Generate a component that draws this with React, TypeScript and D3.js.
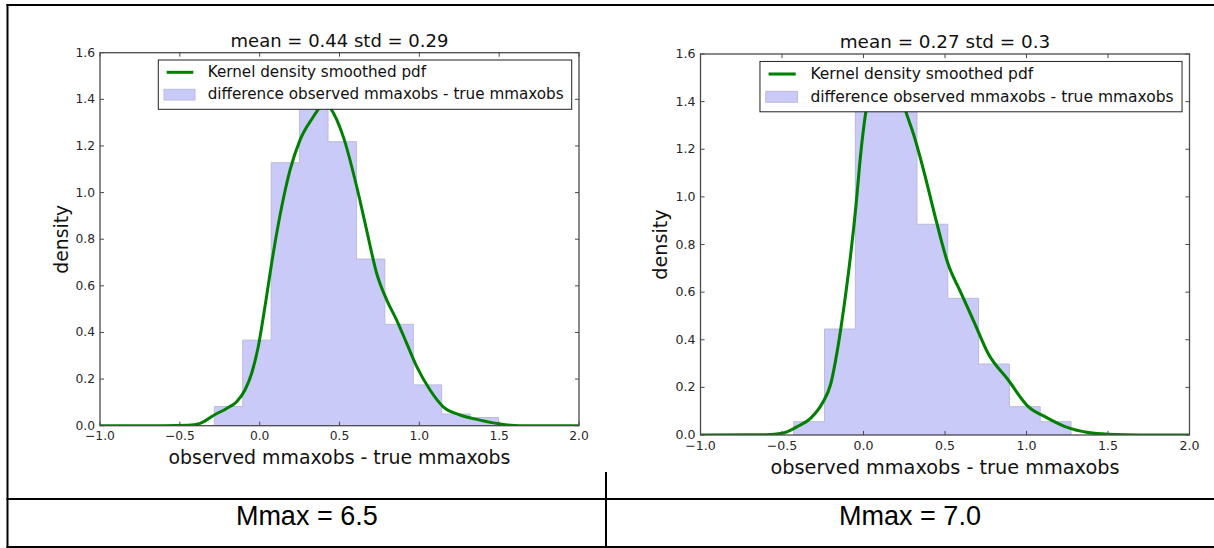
import React from "react";
import * as d3 from "d3";

// ---- Data ----
const xTicks = [-1.0, -0.5, 0.0, 0.5, 1.0, 1.5, 2.0];
const yTicks = [0.0, 0.2, 0.4, 0.6, 0.8, 1.0, 1.2, 1.4, 1.6];

// Left panel (Mmax = 6.5)
const leftTitle = "mean = 0.44 std = 0.29";
const leftBinEdges = [-0.284, -0.106, 0.072, 0.25, 0.428, 0.606, 0.784, 0.962, 1.14, 1.318, 1.496];
const leftBinHeights = [0.082, 0.367, 1.128, 1.41, 1.218, 0.715, 0.435, 0.175, 0.05, 0.035];
const leftKdeX = [-1.0, -0.6, -0.45, -0.373, -0.284, -0.207, -0.144, -0.092, -0.05, -0.009, 0.033, 0.085, 0.138, 0.19, 0.2525, 0.336, 0.37, 0.405, 0.44, 0.524, 0.608, 0.67, 0.733, 0.796, 0.858, 0.921, 0.984, 1.067, 1.15, 1.255, 1.38, 1.506, 1.63, 2.0];
const leftKdeY = [0.0, 0.0, 0.002, 0.01, 0.046, 0.074, 0.103, 0.153, 0.225, 0.339, 0.51, 0.739, 0.939, 1.096, 1.225, 1.325, 1.36, 1.39, 1.365, 1.239, 1.025, 0.839, 0.653, 0.539, 0.453, 0.353, 0.253, 0.153, 0.081, 0.046, 0.024, 0.007, 0.0, 0.0];

// Right panel (Mmax = 7.0)
const rightTitle = "mean = 0.27 std = 0.3";
const rightBinEdges = [-0.428, -0.239, -0.05, 0.139, 0.328, 0.517, 0.706, 0.895, 1.084, 1.273];
const rightBinHeights = [0.056, 0.445, 1.45, 1.41, 0.885, 0.574, 0.298, 0.119, 0.056];
const rightKdeX = [-1.0, -0.6, -0.5, -0.407, -0.325, -0.253, -0.2, -0.16, -0.12, -0.078, -0.047, -0.017, 0.014, 0.06, 0.13, 0.2, 0.261, 0.312, 0.374, 0.435, 0.518, 0.6, 0.682, 0.764, 0.888, 1.011, 1.113, 1.237, 1.381, 1.504, 1.7, 2.0];
const rightKdeY = [0.0, 0.001, 0.007, 0.035, 0.07, 0.133, 0.217, 0.357, 0.538, 0.762, 0.958, 1.182, 1.356, 1.5, 1.56, 1.5, 1.356, 1.252, 1.098, 0.93, 0.72, 0.594, 0.469, 0.343, 0.231, 0.119, 0.077, 0.035, 0.01, 0.003, 0.0, 0.0];

const legendLine = "Kernel density smoothed pdf";
const legendPatch = "difference observed mmaxobs - true mmaxobs";
const xLabel = "observed mmaxobs - true mmaxobs";
const yLabel = "density";
const cellLabels = ["Mmax = 6.5", "Mmax = 7.0"];

const FONT = "'DejaVu Sans', sans-serif";

function fmtTick(v: number) {
  const s = Math.abs(v).toFixed(1);
  return v < 0 ? "\u2212" + s : s;
}

type PanelProps = {
  x0: number; x1: number; y0: number; y1: number; s: number;
  title: string; edges: number[]; heights: number[]; kx: number[]; ky: number[];
};

function Panel({ x0, x1, y0, y1, s, title, edges, heights, kx, ky }: PanelProps) {
  const x = d3.scaleLinear().domain([-1, 2]).range([x0, x1]);
  const y = d3.scaleLinear().domain([0, 1.6]).range([y1, y0]);
  const clipId = `clip-${Math.round(x0)}`;

  // step-filled histogram outline
  const pts: [number, number][] = [[edges[0], 0]];
  heights.forEach((h, i) => {
    pts.push([edges[i], h]);
    pts.push([edges[i + 1], h]);
  });
  pts.push([edges[edges.length - 1], 0]);
  const histPath = d3.line<[number, number]>().x((d) => x(d[0])).y((d) => y(d[1]))(pts) + "Z";

  const kde = kx.map((v, i) => [v, ky[i]] as [number, number]);
  const kdePath = d3.line<[number, number]>().x((d) => x(d[0])).y((d) => y(d[1])).curve(d3.curveMonotoneX)(kde) || "";

  const tickLen = 4 * s;
  const legW = 413.4 * s;
  const legH = 49.3 * s;
  const legR = x1 - 7.3 * s;
  const legT = y0 + 7.3 * s;
  const legL = legR - legW;
  const tickFs = 12.3 * s;

  return (
    <g fontFamily={FONT}>
      <defs>
        <clipPath id={clipId}>
          <rect x={x0} y={y0} width={x1 - x0} height={y1 - y0} />
        </clipPath>
      </defs>
      <g clipPath={`url(#${clipId})`}>
        <path d={histPath} fill="#cacaf8" stroke="#b9b9dc" strokeWidth={1} />
        <path d={kdePath} fill="none" stroke="#008000" strokeWidth={3 * s} strokeLinejoin="round" />
      </g>
      {/* frame */}
      <rect x={x0} y={y0} width={x1 - x0} height={y1 - y0} fill="none" stroke="#4a4a4a" strokeWidth={1.3} />
      {/* ticks */}
      {xTicks.map((t) => (
        <g key={`xt${t}`}>
          <line x1={x(t)} x2={x(t)} y1={y1} y2={y1 - tickLen} stroke="#4a4a4a" strokeWidth={1} />
          <line x1={x(t)} x2={x(t)} y1={y0} y2={y0 + tickLen} stroke="#4a4a4a" strokeWidth={1} />
          <text x={x(t)} y={y1 + 14.6 * s} fontSize={tickFs} fill="#262626" textAnchor="middle">
            {fmtTick(t)}
          </text>
        </g>
      ))}
      {yTicks.map((t) => (
        <g key={`yt${t}`}>
          <line x1={x0} x2={x0 + tickLen} y1={y(t)} y2={y(t)} stroke="#4a4a4a" strokeWidth={1} />
          <line x1={x1} x2={x1 - tickLen} y1={y(t)} y2={y(t)} stroke="#4a4a4a" strokeWidth={1} />
          <text x={x0 - 5 * s} y={y(t) + 4 * s} fontSize={tickFs} fill="#262626" textAnchor="end">
            {fmtTick(t)}
          </text>
        </g>
      ))}
      {/* legend */}
      <rect x={legL} y={legT} width={legW} height={legH} fill="#ffffff" stroke="#222" strokeWidth={1} />
      <line x1={legL + 8.4 * s} x2={legL + 35 * s} y1={legT + 12.3 * s} y2={legT + 12.3 * s} stroke="#008000" strokeWidth={3 * s} />
      <rect x={legL + 5.7 * s} y={legT + 29.3 * s} width={31 * s} height={10.7 * s} fill="#cacaf8" stroke="#b9b9dc" strokeWidth={1} />
      <text x={legL + 49.4 * s} y={legT + 17.2 * s} fontSize={15.2 * s} fill="#111">{legendLine}</text>
      <text x={legL + 49.4 * s} y={legT + 39.4 * s} fontSize={15.2 * s} fill="#111">{legendPatch}</text>
      {/* labels */}
      <text x={(x0 + x1) / 2} y={y0 - 6.2 * s} fontSize={18 * s} textAnchor="middle" fill="#111">{title}</text>
      <text x={(x0 + x1) / 2} y={y1 + 38.3 * s} fontSize={18.9 * s} textAnchor="middle" fill="#111">{xLabel}</text>
      <text
        transform={`translate(${x0 - 32.5 * s},${(y0 + y1) / 2}) rotate(-90)`}
        fontSize={18.8 * s}
        textAnchor="middle"
        fill="#111"
      >
        {yLabel}
      </text>
    </g>
  );
}

export default function App() {
  const W = 1214;
  const H = 548;
  return (
    <svg
      width={W}
      height={H}
      style={{ position: "absolute", left: 0, top: 0, background: "#fff" }}
    >
      <rect x={0} y={0} width={W} height={H} fill="#fff" />
      <Panel x0={100} x1={579} y0={52.7} y1={425.7} s={1} title={leftTitle}
        edges={leftBinEdges} heights={leftBinHeights} kx={leftKdeX} ky={leftKdeY} />
      <Panel x0={700.5} x1={1189.5} y0={54} y1={435} s={1.021} title={rightTitle}
        edges={rightBinEdges} heights={rightBinHeights} kx={rightKdeX} ky={rightKdeY} />
      {/* table borders */}
      <g stroke="#000" strokeWidth={2} fill="none">
        <line x1={7.5} x2={7.5} y1={4} y2={548} />
        <line x1={6.5} x2={1214} y1={5} y2={5} />
        <line x1={6.5} x2={1214} y1={499} y2={499} />
        <line x1={6.5} x2={1214} y1={547} y2={547} />
        <line x1={606} x2={606} y1={472} y2={548} />
      </g>
      <g fontFamily="'Liberation Sans', Arial, sans-serif" fontSize={27} fill="#000" textAnchor="middle">
        <text x={306.8} y={524.5}>{cellLabels[0]}</text>
        <text x={910} y={524.5}>{cellLabels[1]}</text>
      </g>
    </svg>
  );
}
